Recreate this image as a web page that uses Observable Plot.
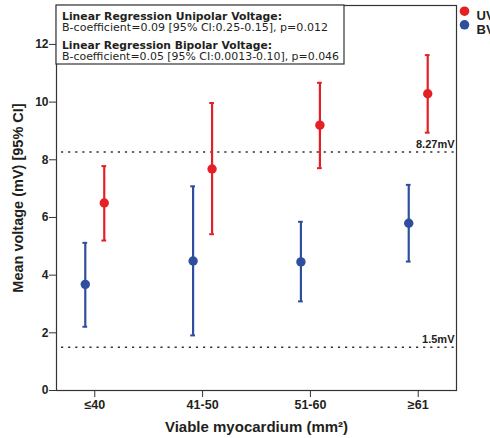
<!DOCTYPE html>
<html>
<head>
<meta charset="utf-8">
<script src="https://cdn.jsdelivr.net/npm/d3@7"></script>
<script src="https://cdn.jsdelivr.net/npm/@observablehq/plot@0.6"></script>
<style>
  html, body { margin: 0; padding: 0; background: #fff; }
  #wrap { position: relative; width: 490px; height: 438px; overflow: hidden; }
</style>
</head>
<body>
<div id="wrap"></div>
<script>
const categories = ["≤40", "41-50", "51-60", "≥61"];
const uvMean = [6.50, 7.68, 9.20, 10.29];
const uvLow  = [5.20, 5.42, 7.71, 8.94];
const uvHigh = [7.78, 9.97, 10.67, 11.63];
const bvMean = [3.68, 4.49, 4.46, 5.80];
const bvLow  = [2.21, 1.91, 3.09, 4.47];
const bvHigh = [5.12, 7.08, 5.85, 7.13];
const thresholds = [8.27, 1.5];
const thresholdLabels = ["8.27mV", "1.5mV"];
const yTicks = [0, 2, 4, 6, 8, 10, 12];
const seriesNames = ["UV", "BV"];
const boxLines = [
  ["Linear Regression Unipolar Voltage:", "B-coefficient=0.09 [95% CI:0.25-0.15], p=0.012"],
  ["Linear Regression Bipolar Voltage:", "B-coefficient=0.05 [95% CI:0.0013-0.10], p=0.046"]
];

const RED = "#e51f26";
const BLUE = "#2f4e9e";
const INK = "#231f20";
const FONT = "Liberation Sans, Arial, sans-serif";
const BOXFONT = "DejaVu Sans, sans-serif";
const off = 0.088;   // horizontal offset of each series inside a category (x units)
const cap = 0.022;   // half width of error-bar caps (x units)

const rows = [];
categories.forEach((c, i) => {
  rows.push({series: "UV", i, x: i + off, mean: uvMean[i], lo: uvLow[i], hi: uvHigh[i]});
  rows.push({series: "BV", i, x: i - off, mean: bvMean[i], lo: bvLow[i], hi: bvHigh[i]});
});
const capRows = rows.flatMap(d => [{...d, y: d.lo}, {...d, y: d.hi}]);
const color = s => s === "UV" ? RED : BLUE;
const thr = thresholds.map((v, k) => ({v, label: thresholdLabels[k]}));

const legendMarks = seriesNames.flatMap((s, k) => [
  Plot.dot([s], {frameAnchor: "top-right", dx: 8, dy: 5.7 + k * 13.6, r: 4.8, fill: color(s)}),
  Plot.text([s], {frameAnchor: "top-right", text: d => d, dx: 20, dy: 5.7 + k * 13.6, textAnchor: "start", fontSize: 13, fontWeight: "bold", fill: INK})
]);

const chart = Plot.plot({
  width: 490,
  height: 438,
  marginLeft: 56,
  marginRight: 34,
  marginTop: 5,
  marginBottom: 48,
  style: {fontFamily: FONT, color: INK, background: "transparent", overflow: "visible"},
  x: {type: "linear", domain: [-0.355, 3.355]},
  y: {domain: [0, 13.35]},
  marks: [
    Plot.ruleY(thr, {y: "v", stroke: "#333", strokeWidth: 1.7, strokeDasharray: "2.2,4.9", strokeDashoffset: -5}),
    Plot.text(thr, {y: "v", text: "label", frameAnchor: "right", textAnchor: "end", dx: -2, dy: -8, fontSize: 11, fontWeight: "bold", fill: INK}),
    Plot.ruleX(rows, {x: "x", y1: "lo", y2: "hi", stroke: d => color(d.series), strokeWidth: 2.2}),
    Plot.ruleY(capRows, {y: "y", x1: d => d.x - cap, x2: d => d.x + cap, stroke: d => color(d.series), strokeWidth: 2}),
    Plot.dot(rows, {x: "x", y: "mean", r: 4.7, fill: d => color(d.series), stroke: "none"}),
    Plot.frame({stroke: "#333", strokeWidth: 1.2}),
    Plot.axisY({ticks: yTicks, tickSize: 7, tickPadding: 1, fontSize: 12, fontWeight: "bold", label: null, stroke: "#333"}),
    Plot.axisX({ticks: [0, 1, 2, 3], tickFormat: i => categories[i], tickSize: 7, tickPadding: 3, fontSize: 12.5, fontWeight: "bold", label: null, stroke: "#333"}),
    Plot.text(["Mean voltage (mV) [95% CI]"], {frameAnchor: "left", textAnchor: "middle", rotate: -90, dx: -38, fontSize: 14.5, fontWeight: "bold", fill: INK}),
    Plot.text(["Viable myocardium (mm²)"], {frameAnchor: "bottom", dy: 41, fontSize: 15, fontWeight: "bold", fill: INK}),
    ...legendMarks
  ]
});

document.getElementById("wrap").appendChild(chart);

// annotation box in the upper-left corner of the plot
const svg = d3.select(chart.tagName.toLowerCase() === "svg" ? chart : chart.querySelector("svg"));
const g = svg.append("g").attr("text-anchor", "start");
g.append("rect").attr("x", 56).attr("y", 5).attr("width", 288).attr("height", 59)
  .attr("fill", "#fff").attr("stroke", "#333").attr("stroke-width", 1.2);
const baselines = [[20.3, 31], [49, 59.7]];
const widths = [[220, 266], [210, 277]];
boxLines.forEach(([h, t], k) => {
  g.append("text").attr("x", 62).attr("y", baselines[k][0]).text(h).attr("text-anchor", "start")
    .attr("font-family", BOXFONT).attr("font-size", 11.3).attr("font-weight", "bold").attr("fill", INK)
    .attr("textLength", widths[k][0]).attr("lengthAdjust", "spacingAndGlyphs");
  g.append("text").attr("x", 62).attr("y", baselines[k][1]).text(t).attr("text-anchor", "start")
    .attr("font-family", BOXFONT).attr("font-size", 11.3).attr("fill", INK)
    .attr("textLength", widths[k][1]).attr("lengthAdjust", "spacingAndGlyphs");
});
</script>
</body>
</html>
